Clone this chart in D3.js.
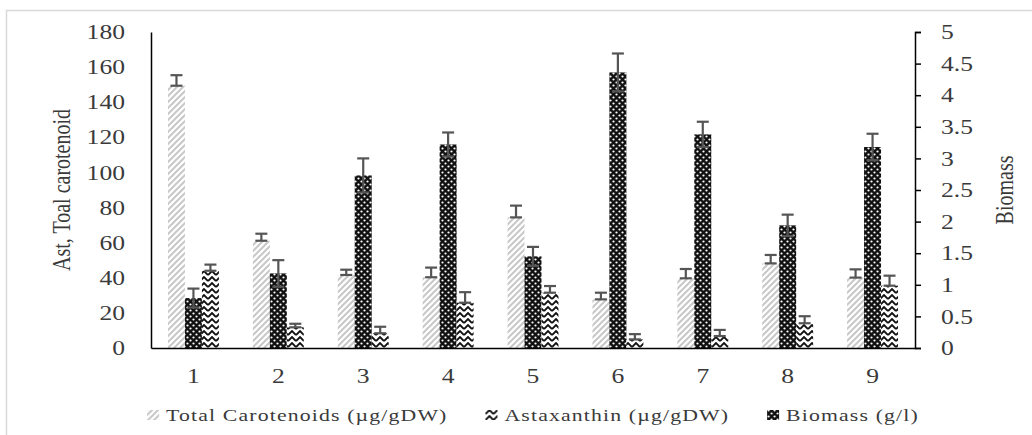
<!DOCTYPE html>
<html>
<head>
<meta charset="utf-8">
<script src="https://cdn.jsdelivr.net/npm/d3@7"></script>
<style>
  body { margin: 0; background: #fff; }
  svg text { font-family: "Liberation Serif", "Times New Roman", serif; fill: #3a3a3a; }
</style>
</head>
<body>
<svg id="chart" width="1032" height="435"></svg>
<script>
// data
var categories = ["1", "2", "3", "4", "5", "6", "7", "8", "9"];
var carotenoids = [149.4, 61.1, 41.6, 40.3, 74.4, 27.7, 39.7, 48.2, 40.1];
var carotenoidsErr = [6, 4, 3, 5.5, 6.7, 3.8, 5.3, 4.8, 4.7];
var astaxanthin = [44.0, 11.8, 8.4, 25.8, 31.5, 4.9, 6.8, 14.1, 35.5];
var astaxanthinErr = [3.5, 2, 3.7, 6, 3.8, 3, 3.5, 4, 5.7];
var biomass = [0.79, 1.18, 2.73, 3.22, 1.45, 4.36, 3.38, 1.94, 3.18];
var biomassErr = [0.15, 0.21, 0.27, 0.19, 0.15, 0.3, 0.2, 0.17, 0.21];
var leftTicks = [0, 20, 40, 60, 80, 100, 120, 140, 160, 180];
var rightTicks = [0, 0.5, 1, 1.5, 2, 2.5, 3, 3.5, 4, 4.5, 5];
var legendLabels = ["Total Carotenoids (µg/gDW)", "Astaxanthin (µg/gDW)", "Biomass (g/l)"];

var sx = 1.28; // text in the picture is stretched sideways
var svg = d3.select("#chart");
var plotLeft = 151, plotRight = 915, plotTop = 32, plotBottom = 348;

// light frame round the chart
svg.append("rect")
    .attr("x", 6.5).attr("y", 10.5)
    .attr("width", 1100).attr("height", 500)
    .attr("fill", "none").attr("stroke", "#d9d9d9").attr("stroke-width", 1.5);

// fill patterns
var defs = svg.append("defs");
var pCar = defs.append("pattern").attr("id", "pCar")
    .attr("patternUnits", "userSpaceOnUse").attr("width", 6).attr("height", 6);
pCar.append("rect").attr("width", 6).attr("height", 6).attr("fill", "#fff");
pCar.append("path").attr("d", "M-1,1 l2,-2 M0,6 l6,-6 M5,7 l2,-2")
    .attr("stroke", "#c8c8c8").attr("stroke-width", 2);

var pBio = defs.append("pattern").attr("id", "pBio")
    .attr("patternUnits", "userSpaceOnUse").attr("width", 6).attr("height", 6);
pBio.append("rect").attr("width", 6).attr("height", 6).attr("fill", "#111");
pBio.append("circle").attr("cx", 1.5).attr("cy", 1.5).attr("r", 1.1).attr("fill", "#fff");
pBio.append("circle").attr("cx", 4.5).attr("cy", 4.5).attr("r", 1.1).attr("fill", "#fff");

var pAst = defs.append("pattern").attr("id", "pAst")
    .attr("patternUnits", "userSpaceOnUse").attr("width", 8).attr("height", 6);
pAst.append("rect").attr("width", 8).attr("height", 6).attr("fill", "#fff");
pAst.append("path").attr("d", "M0,5 L4,1 L8,5")
    .attr("fill", "none").attr("stroke", "#111").attr("stroke-width", 1.8);

// scales
var x = d3.scaleBand().domain(categories).range([plotLeft, plotRight])
    .paddingInner(0.4).paddingOuter(0.2);
var inner = d3.scaleBand().domain(["car", "bio", "ast"]).range([0, x.bandwidth()]);
var yL = d3.scaleLinear().domain([0, 180]).range([plotBottom, plotTop]);
var yR = d3.scaleLinear().domain([0, 5]).range([plotBottom, plotTop]);

var series = [
  { key: "car", values: carotenoids, err: carotenoidsErr, y: yL, fill: "url(#pCar)", both: false },
  { key: "bio", values: biomass, err: biomassErr, y: yR, fill: "url(#pBio)", both: true },
  { key: "ast", values: astaxanthin, err: astaxanthinErr, y: yL, fill: "url(#pAst)", both: false }
];

// bars
series.forEach(function (s) {
    svg.append("g").selectAll("rect")
        .data(s.values)
        .enter().append("rect")
        .attr("x", function (d, i) { return x(categories[i]) + inner(s.key); })
        .attr("y", function (d) { return s.y(d); })
        .attr("width", inner.bandwidth())
        .attr("height", function (d) { return plotBottom - s.y(d); })
        .attr("fill", s.fill);
});

// error bars
series.forEach(function (s) {
    var g = svg.append("g").attr("stroke", "#555").attr("stroke-width", 2.2);
    s.values.forEach(function (v, i) {
        var cx = x(categories[i]) + inner(s.key) + inner.bandwidth() / 2;
        var hi = s.y(v + s.err[i]);
        var lo = s.both ? s.y(v - s.err[i]) : s.y(v);
        g.append("line").attr("x1", cx).attr("x2", cx).attr("y1", hi).attr("y2", lo);
        g.append("line").attr("x1", cx - 6).attr("x2", cx + 6).attr("y1", hi).attr("y2", hi);
        g.append("line").attr("x1", cx - 6).attr("x2", cx + 6).attr("y1", lo).attr("y2", lo);
    });
});

// left axis
var gL = svg.append("g").attr("transform", "translate(" + plotLeft + ",0)")
    .call(d3.axisLeft(yL).tickValues(leftTicks).tickSize(0).tickPadding(26));
gL.select(".domain").attr("stroke", "#000").attr("stroke-width", 1.5);
gL.selectAll("text")
    .attr("font-size", 20)
    .attr("x", -26 / sx)
    .attr("dy", "0.33em")
    .attr("transform", "scale(" + sx + ",1)");

// right axis
var gR = svg.append("g").attr("transform", "translate(" + plotRight + ",0)")
    .call(d3.axisRight(yR).tickValues(rightTicks).tickSize(6).tickPadding(20)
        .tickFormat(function (d) { return String(d); }));
gR.selectAll(".domain, line").attr("stroke", "#000").attr("stroke-width", 1.5);
gR.selectAll("text")
    .attr("font-size", 20)
    .attr("x", 26 / sx)
    .attr("dy", "0.33em")
    .attr("transform", "scale(" + sx + ",1)");

// baseline with category labels
var gB = svg.append("g").attr("transform", "translate(0," + plotBottom + ")")
    .call(d3.axisBottom(x).tickSize(0).tickPadding(21));
gB.select(".domain").attr("stroke", "#000").attr("stroke-width", 1.5);
gB.selectAll("text").attr("font-size", 20).attr("transform", "scale(" + sx + ",1)")
    .attr("x", 0);

// axis titles
svg.append("text")
    .attr("transform", "translate(70," + ((plotTop + plotBottom) / 2) + ") scale(" + sx + ",1) rotate(-90)")
    .attr("text-anchor", "middle").attr("font-size", 20)
    .text("Ast, Toal carotenoid");
svg.append("text")
    .attr("transform", "translate(1013," + ((plotTop + plotBottom) / 2) + ") scale(" + sx + ",1) rotate(-90)")
    .attr("text-anchor", "middle").attr("font-size", 20)
    .text("Biomass");

// legend
var fills = ["url(#pCar)", "url(#pAst)", "url(#pBio)"];
var lg = svg.append("g");
var cursor = 0;
legendLabels.forEach(function (label, i) {
    var item = lg.append("g").attr("transform", "translate(" + cursor + ",0)");
    item.append("rect").attr("x", 0).attr("y", -11).attr("width", 12).attr("height", 10)
        .attr("fill", fills[i]);
    var t = item.append("text")
        .attr("transform", "translate(19,0) scale(" + sx + ",1)")
        .attr("font-size", 17).attr("letter-spacing", 0.9)
        .text(label);
    cursor += 19 + t.node().getComputedTextLength() * sx + 38;
});
var legendWidth = cursor - 38;
lg.attr("transform", "translate(" + ((plotLeft + plotRight) / 2 - legendWidth / 2) + ",421)");
</script>
</body>
</html>
